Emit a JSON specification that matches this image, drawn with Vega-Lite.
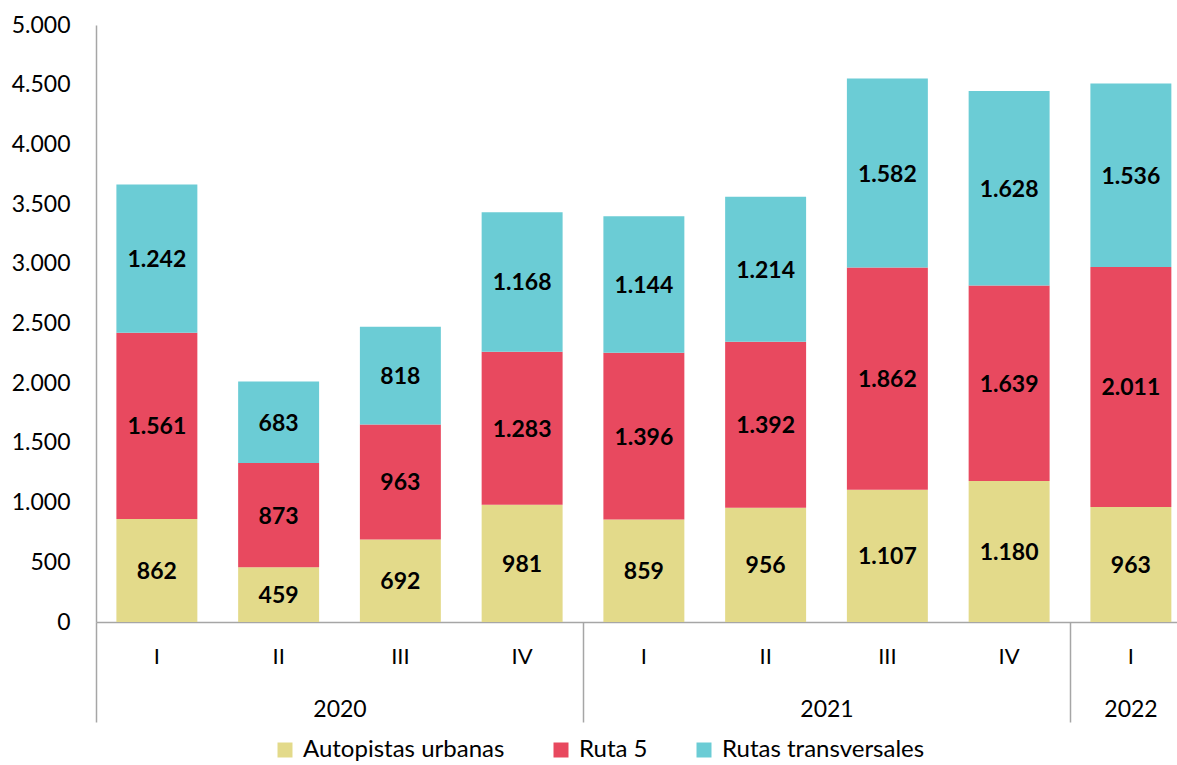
{
  "$schema": "https://vega.github.io/schema/vega-lite/v6.json",
  "width": 1081,
  "height": 597,
  "autosize": {"type": "none"},
  "padding": {"left": 96, "top": 25, "right": 0, "bottom": 143},
  "background": "white",
  "config": {
    "font": "Lato",
    "view": {"stroke": null},
    "locale": {"number": {"decimal": ",", "thousands": ".", "grouping": [3], "currency": ["$", ""]}}
  },
  "data": {
    "values": [
      {"period": "2020-I", "series": "Autopistas urbanas", "order": 1, "value": 862},
      {"period": "2020-I", "series": "Ruta 5", "order": 2, "value": 1561},
      {"period": "2020-I", "series": "Rutas transversales", "order": 3, "value": 1242},
      {"period": "2020-II", "series": "Autopistas urbanas", "order": 1, "value": 459},
      {"period": "2020-II", "series": "Ruta 5", "order": 2, "value": 873},
      {"period": "2020-II", "series": "Rutas transversales", "order": 3, "value": 683},
      {"period": "2020-III", "series": "Autopistas urbanas", "order": 1, "value": 692},
      {"period": "2020-III", "series": "Ruta 5", "order": 2, "value": 963},
      {"period": "2020-III", "series": "Rutas transversales", "order": 3, "value": 818},
      {"period": "2020-IV", "series": "Autopistas urbanas", "order": 1, "value": 981},
      {"period": "2020-IV", "series": "Ruta 5", "order": 2, "value": 1283},
      {"period": "2020-IV", "series": "Rutas transversales", "order": 3, "value": 1168},
      {"period": "2021-I", "series": "Autopistas urbanas", "order": 1, "value": 859},
      {"period": "2021-I", "series": "Ruta 5", "order": 2, "value": 1396},
      {"period": "2021-I", "series": "Rutas transversales", "order": 3, "value": 1144},
      {"period": "2021-II", "series": "Autopistas urbanas", "order": 1, "value": 956},
      {"period": "2021-II", "series": "Ruta 5", "order": 2, "value": 1392},
      {"period": "2021-II", "series": "Rutas transversales", "order": 3, "value": 1214},
      {"period": "2021-III", "series": "Autopistas urbanas", "order": 1, "value": 1107},
      {"period": "2021-III", "series": "Ruta 5", "order": 2, "value": 1862},
      {"period": "2021-III", "series": "Rutas transversales", "order": 3, "value": 1582},
      {"period": "2021-IV", "series": "Autopistas urbanas", "order": 1, "value": 1180},
      {"period": "2021-IV", "series": "Ruta 5", "order": 2, "value": 1639},
      {"period": "2021-IV", "series": "Rutas transversales", "order": 3, "value": 1628},
      {"period": "2022-I", "series": "Autopistas urbanas", "order": 1, "value": 963},
      {"period": "2022-I", "series": "Ruta 5", "order": 2, "value": 2011},
      {"period": "2022-I", "series": "Rutas transversales", "order": 3, "value": 1536}
    ]
  },
  "layer": [
    {
      "mark": {"type": "bar"},
      "encoding": {
        "x": {
          "field": "period",
          "type": "ordinal",
          "sort": null,
          "scale": {
            "domain": ["2020-I", "2020-II", "2020-III", "2020-IV", "2021-I", "2021-II", "2021-III", "2021-IV", "2022-I"],
            "range": [0, 1095.75],
            "paddingInner": 0.335,
            "paddingOuter": 0.1675
          },
          "axis": {
            "title": null,
            "orient": "bottom",
            "labelExpr": "split(datum.value, '-')[1]",
            "labelAngle": 0,
            "labelFontSize": 22,
            "labelColor": "#000000",
            "labelPadding": 24,
            "ticks": false,
            "domain": true,
            "domainColor": "#a6a6a6",
            "domainWidth": 1.5,
            "labelOverlap": false
          }
        },
        "y": {
          "field": "value",
          "type": "quantitative",
          "stack": "zero",
          "scale": {"domain": [0, 5000], "nice": false},
          "axis": {
            "title": null,
            "values": [0, 500, 1000, 1500, 2000, 2500, 3000, 3500, 4000, 4500, 5000],
            "format": ",d",
            "grid": false,
            "ticks": false,
            "domainColor": "#a6a6a6",
            "domainWidth": 1.5,
            "labelFontSize": 23,
            "labelColor": "#000000",
            "labelPadding": 26
          }
        },
        "color": {
          "field": "series",
          "type": "nominal",
          "scale": {
            "domain": ["Autopistas urbanas", "Ruta 5", "Rutas transversales"],
            "range": ["#e3da8a", "#e8495f", "#6bccd5"]
          },
          "legend": {
            "title": null,
            "orient": "none",
            "direction": "horizontal",
            "legendX": 177,
            "legendY": 713,
            "symbolType": "square",
            "symbolSize": 225,
            "symbolStrokeWidth": 0,
            "labelFontSize": 24,
            "labelColor": "#000000",
            "labelOffset": 6,
            "labelLimit": 500,
            "columnPadding": 44
          }
        },
        "order": {"field": "order", "type": "quantitative"}
      }
    },
    {
      "transform": [
        {"stack": "value", "groupby": ["period"], "sort": [{"field": "order", "order": "ascending"}], "as": ["v0", "v1"]},
        {"calculate": "(datum.v0 + datum.v1) / 2", "as": "mid"}
      ],
      "mark": {"type": "text", "fontWeight": "bold", "fontSize": 23, "color": "#000000", "baseline": "middle", "align": "center", "dy": 1.5},
      "encoding": {
        "x": {"field": "period", "type": "ordinal", "sort": null, "axis": null},
        "y": {"field": "mid", "type": "quantitative", "axis": {"title": null}},
        "text": {"field": "value", "type": "quantitative", "format": ",d"}
      }
    },
    {
      "mark": {"type": "text", "text": ""},
      "encoding": {
        "x": {
          "field": "period",
          "type": "ordinal",
          "sort": null,
          "axis": {
            "title": null,
            "orient": "bottom",
            "values": ["2020-I", "2021-I", "2022-I"],
            "bandPosition": 0,
            "tickOffset": -20.4,
            "labelExpr": "split(datum.value, '-')[0]",
            "labelAngle": 0,
            "labelOffset": {"condition": {"test": "datum.value === '2022-I'", "value": 20}, "value": 203},
            "labelFontSize": 23,
            "labelColor": "#000000",
            "labelPadding": -24,
            "ticks": true,
            "tickSize": 100,
            "tickColor": "#a6a6a6",
            "tickWidth": 1.5,
            "domain": false,
            "labelOverlap": false,
            "labelBound": false,
            "labelFlush": false
          }
        }
      }
    }
  ],
  "resolve": {"axis": {"x": "independent"}}
}
